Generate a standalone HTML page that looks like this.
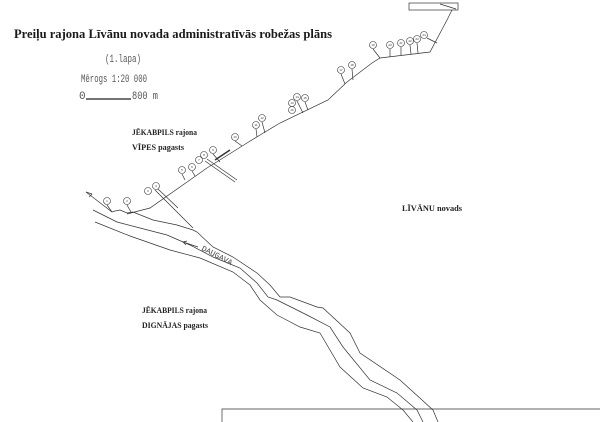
<!DOCTYPE html>
<html><head><meta charset="utf-8"><style>
html,body{margin:0;padding:0;background:#fff;}
svg{display:block}
.b{font-family:"Liberation Serif",serif;font-weight:bold;font-size:8px;fill:#222}
.m{font-family:"Liberation Mono",monospace;font-size:11px;fill:#555}
.c{font-family:"Liberation Sans",sans-serif;font-size:3px;fill:#333;text-anchor:middle}
</style></head><body>
<svg width="600" height="422" viewBox="0 0 600 422" xmlns="http://www.w3.org/2000/svg">
<text x="14" y="38" font-family="Liberation Serif,serif" font-size="13" font-weight="bold" fill="#1a1a1a" textLength="318" lengthAdjust="spacingAndGlyphs">Preiļu rajona Līvānu novada administratīvās robežas plāns</text>
<text class="m" x="105" y="62" textLength="36" lengthAdjust="spacingAndGlyphs">(1.lapa)</text>
<text class="m" x="81" y="82" textLength="66" lengthAdjust="spacingAndGlyphs">Mērogs 1:20 000</text>
<text class="m" x="79" y="99">0</text>
<line x1="86" y1="99" x2="131" y2="99" stroke="#222" stroke-width="1.3"/>
<text class="m" x="132" y="99" textLength="26" lengthAdjust="spacingAndGlyphs">800 m</text>
<text class="b" x="132" y="135" textLength="65" lengthAdjust="spacingAndGlyphs">JĒKABPILS rajona</text>
<text class="b" x="132" y="150" textLength="52" lengthAdjust="spacingAndGlyphs">VĪPES pagasts</text>
<text class="b" x="402" y="211" textLength="60" lengthAdjust="spacingAndGlyphs">LĪVĀNU novads</text>
<text class="b" x="142" y="313" textLength="65" lengthAdjust="spacingAndGlyphs">JĒKABPILS rajona</text>
<text class="b" x="142" y="328" textLength="66" lengthAdjust="spacingAndGlyphs">DIGNĀJAS pagasts</text>
<g fill="none" stroke="#333" stroke-width="0.7">
<polyline points="127,214 150,208 207,168 247,143 260,135 280,123 328,100 347,82 372,63 380,58 430,52 447,20 452,10"/>
<rect x="409" y="3" width="49" height="7"/>
<line x1="440" y1="4" x2="456" y2="9"/>
<polyline points="86,192 112,212 115,211 120,210 127,213 133,212 153,220 177,225 193,230 197,232 213,247 233,257 257,273 270,285 280,297 290,297 317,307 323,308 350,333 360,353 400,380 433,410 438,422"/>
<polyline points="86,192 92,194 89,197"/>
<polyline points="93,210 117,222 140,228 167,235 190,245 213,257 240,268 257,283 268,297 277,300 307,315 330,327 343,347 370,380 397,393 417,410 423,422"/>
<polyline points="95,222 130,236 170,250 200,258 233,272 250,285 260,300 277,315 300,327 320,333 340,367 363,388 387,397 403,410 413,422"/>
<polyline points="155,190 175,210 193,228"/>
<polyline points="158,189 178,208"/>
<polyline points="205,161 235,182"/>
<polyline points="207,159 237,180"/>
<line x1="215" y1="160" x2="230" y2="150" stroke-width="1.5"/>
<line x1="183" y1="242" x2="198" y2="247"/>
<polyline points="187,241 183,242 186,245"/>
<polyline points="222,422 222,409 600,409"/>
<line x1="107" y1="205" x2="112" y2="212"/><line x1="127" y1="205" x2="131" y2="212"/>
<line x1="182" y1="174" x2="185" y2="180"/><line x1="192" y1="171" x2="195" y2="176"/>
<line x1="213" y1="154" x2="220" y2="162"/><line x1="235" y1="141" x2="242" y2="146"/>
<line x1="256" y1="129" x2="257" y2="137"/><line x1="262" y1="122" x2="265" y2="133"/>
<line x1="305" y1="102" x2="308" y2="110"/><line x1="297" y1="101" x2="303" y2="113"/>
<line x1="341" y1="74" x2="345" y2="84"/><line x1="352" y1="69" x2="353" y2="80"/>
<line x1="373" y1="49" x2="380" y2="58"/><line x1="390" y1="49" x2="390" y2="57"/>
<line x1="401" y1="47" x2="401" y2="55"/><line x1="410" y1="45" x2="411" y2="54"/>
<line x1="417" y1="43" x2="418" y2="53"/><line x1="427" y1="38" x2="437" y2="43"/>
</g>
<g fill="#fff" stroke="#333" stroke-width="0.6">
<circle cx="107" cy="201" r="3.5"/><circle cx="127" cy="201" r="3.5"/>
<circle cx="148" cy="191" r="3.5"/><circle cx="156" cy="186" r="3.5"/>
<circle cx="182" cy="170" r="3.5"/><circle cx="192" cy="167" r="3.5"/>
<circle cx="199" cy="160" r="3.5"/><circle cx="204" cy="155" r="3.5"/>
<circle cx="213" cy="150" r="3.5"/><circle cx="235" cy="137" r="3.5"/>
<circle cx="256" cy="125" r="3.5"/><circle cx="262" cy="118" r="3.5"/>
<circle cx="297" cy="97" r="3.5"/><circle cx="305" cy="98" r="3.5"/>
<circle cx="292" cy="103" r="3.5"/><circle cx="292" cy="110" r="3.5"/>
<circle cx="341" cy="70" r="3.5"/><circle cx="352" cy="65" r="3.5"/>
<circle cx="373" cy="45" r="3.5"/><circle cx="390" cy="45" r="3.5"/>
<circle cx="401" cy="43" r="3.5"/><circle cx="410" cy="41" r="3.5"/>
<circle cx="417" cy="39" r="3.5"/><circle cx="424" cy="35" r="3.5"/>
</g>
<g class="c">
<text x="107" y="202">1</text><text x="127" y="202">2</text><text x="148" y="192">3</text><text x="156" y="187">4</text>
<text x="182" y="171">5</text><text x="192" y="168">6</text><text x="199" y="161">7</text><text x="204" y="156">8</text>
<text x="213" y="151">9</text><text x="235" y="138">10</text><text x="256" y="126">11</text><text x="262" y="119">12</text>
<text x="297" y="98">14</text><text x="305" y="99">15</text><text x="292" y="104">13</text><text x="292" y="111">16</text>
<text x="341" y="71">17</text><text x="352" y="66">18</text><text x="373" y="46">19</text><text x="390" y="46">20</text>
<text x="401" y="44">21</text><text x="410" y="42">22</text><text x="417" y="40">23</text><text x="424" y="36">24</text>
</g>
<text x="201" y="250" transform="rotate(27 201 250)" font-family="Liberation Mono,monospace" font-size="8" fill="#444">DAUGAVA</text>
</svg>
</body></html>
